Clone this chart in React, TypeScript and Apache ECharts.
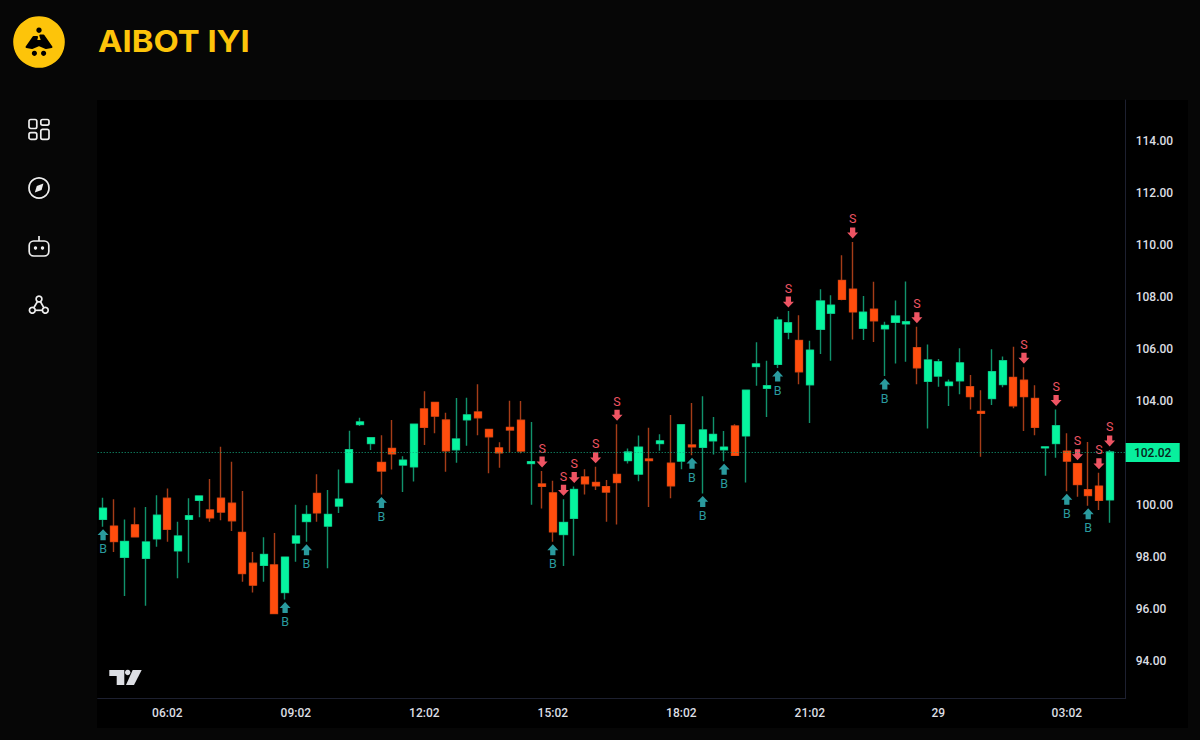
import React, { useEffect, useRef } from "react";
import * as echarts from "echarts";

const opens = [99.45,99.19,97.99,99.24,97.95,98.70,100.26,98.24,99.45,100.18,99.81,100.26,100.07,98.95,97.76,97.68,97.70,96.64,98.54,99.37,100.45,99.19,99.96,100.87,103.10,102.37,101.64,102.18,101.54,101.47,103.70,103.95,103.27,102.13,103.28,103.58,102.91,102.20,102.99,103.26,101.60,100.81,100.47,98.87,99.49,101.08,100.87,100.71,101.18,101.71,101.19,101.77,102.37,101.61,101.69,102.31,102.22,102.47,102.13,103.04,102.66,105.33,104.49,105.41,106.65,106.33,104.63,106.76,107.38,108.64,108.30,106.80,107.53,106.78,107.03,106.97,106.05,104.76,104.96,104.60,104.78,104.55,103.60,104.10,104.64,104.91,104.80,104.10,102.20,102.37,102.07,101.59,100.59,100.73,100.20];
const closes = [99.88,98.60,98.60,98.78,98.58,99.61,99.07,98.81,99.59,100.35,99.51,99.73,99.40,97.37,96.92,98.10,95.83,98.00,98.81,99.64,99.70,99.64,100.23,102.13,103.20,102.59,101.31,101.97,101.73,103.11,102.99,103.42,102.09,102.54,103.47,103.36,102.63,102.01,102.89,102.08,101.67,100.72,98.97,99.33,100.60,100.82,100.74,100.50,100.87,102.04,102.23,101.71,102.47,100.74,103.09,102.24,102.89,102.72,102.23,101.91,104.42,105.43,104.59,107.12,107.01,105.13,105.96,107.85,107.69,107.91,107.43,107.42,107.09,106.91,107.27,107.05,105.28,105.58,105.51,104.73,105.47,104.17,103.53,105.13,105.55,103.82,104.17,102.99,102.24,103.05,101.69,100.79,100.37,100.18,102.04];
const lows = [99.17,98.20,96.50,98.78,96.13,98.40,98.59,97.19,97.78,99.53,99.36,99.42,99.00,97.05,96.64,97.05,95.83,96.37,97.82,98.59,99.36,97.57,99.70,100.87,103.04,102.12,100.41,101.37,100.50,100.91,102.31,102.76,101.28,101.63,102.28,102.69,101.22,101.44,102.03,101.99,100.01,99.87,98.59,97.66,98.05,100.41,100.58,99.36,99.25,101.60,100.92,99.93,102.09,100.26,101.38,101.92,100.45,101.95,101.69,101.91,100.87,104.59,103.39,105.27,106.38,104.65,103.16,105.81,105.55,107.88,106.37,106.35,106.27,104.96,105.45,105.51,104.65,102.95,104.55,103.81,104.26,103.68,101.86,103.85,104.53,103.72,102.85,102.69,101.13,101.82,100.53,100.32,99.97,99.81,99.32];
const highs = [100.28,100.22,99.45,99.91,99.93,100.38,100.64,99.36,100.26,100.35,101.00,102.24,101.67,100.54,98.20,98.76,98.93,98.00,100.01,99.99,101.19,100.58,101.37,102.86,103.36,102.62,102.69,103.27,101.88,103.11,104.38,103.95,103.55,104.12,104.13,104.65,102.91,102.42,104.01,104.00,103.20,101.31,100.94,100.22,100.71,101.38,101.47,100.96,103.11,102.18,102.68,102.97,102.72,103.46,103.09,103.93,104.19,103.39,102.85,103.11,104.42,106.26,105.55,107.24,107.46,107.30,106.32,108.30,108.07,109.61,110.12,108.04,108.59,107.05,107.87,108.60,106.86,106.18,105.62,104.83,106.03,105.00,104.42,105.99,105.71,106.09,105.30,104.61,102.24,103.68,102.76,101.59,102.43,101.24,102.12];

const buyIndexes = [0,17,19,26,42,55,56,58,63,73,90,92];
const sellIndexes = [41,43,44,46,48,64,70,76,86,89,91,93,94];
const yTickLabels = [94,96,98,100,104,106,108,110,112,114];
const lastPrice = 102.02;
const categories = Array.from({ length: 96 }, (_, i) => {
  const m = (4 * 60 + 32 + i * 15) % (24 * 60);
  return String(Math.floor(m / 60)).padStart(2, "0") + ":" + String(m % 60).padStart(2, "0");
});

const UP = "#06f59f";
const DOWN = "#ff4d0d";
const UP_WICK = "#11926c";
const DOWN_WICK = "#a53c18";
const YELLOW = "#fdc40a";
const BUY = "#2a9a9e";
const SELL = "#ee5463";
const TEXT = "#dcdee3";
const ICON = "#eeeeee";
const AXIS = "#1d2030";
const PAGE = "#060606";
const FONT = "Roboto, sans-serif";

const arrowUp = "path://M5 0 L10 5.4 L7.4 5.4 L7.4 10 L2.6 10 L2.6 5.4 L0 5.4 Z";
const arrowDown = "path://M2.6 0 L7.4 0 L7.4 4.6 L10 4.6 L5 10 L0 4.6 L2.6 4.6 Z";

function rr(x: number, y: number, w: number, h: number, r: number) {
  return {
    type: "rect", shape: { x, y, width: w, height: h, r },
    style: { fill: "none", stroke: ICON, lineWidth: 1.7 },
  };
}
function ring(cx: number, cy: number, r: number, w = 1.7) {
  return { type: "circle", shape: { cx, cy, r }, style: { fill: PAGE, stroke: ICON, lineWidth: w } };
}
function seg(x1: number, y1: number, x2: number, y2: number) {
  return { type: "line", shape: { x1, y1, x2, y2 }, style: { stroke: ICON, lineWidth: 1.7 } };
}
function dot(cx: number, cy: number, r: number, fill: string) {
  return { type: "circle", shape: { cx, cy, r }, style: { fill } };
}

const graphics: any[] = [
  { type: "rect", z: -10, shape: { x: 97, y: 100, width: 1091, height: 628 }, style: { fill: "#000" } },
  // logo
  dot(39, 42, 25.8, YELLOW),
  dot(39, 30.2, 2.7, "#000"),
  { type: "polygon",
    shape: { points: [[33.5,37],[37,37],[36,41],[42,41],[40.3,35.5],[43.5,35.5],[51.5,47],[46,48],[39,45],[32,48],[26.5,47]] },
    style: { fill: "#000", stroke: "#000", lineWidth: 2, lineJoin: "round" } },
  dot(34.4, 53.3, 2.6, "#000"),
  dot(43.6, 53.3, 2.6, "#000"),
  { type: "text", x: 98, y: 42, scaleX: 1.095, style: { text: "AIBOT IYI", fill: YELLOW, font: "700 30px Inter, sans-serif", textVerticalAlign: "middle", textAlign: "left" } },
  // dashboard icon
  rr(29, 119.5, 7.8, 9, 1.8), rr(40.8, 119.5, 8.2, 5.6, 1.8),
  rr(29, 132.7, 7.8, 6.6, 1.8), rr(40.8, 129.4, 8.2, 9.9, 1.8),
  // compass icon
  ring(39, 188, 10),
  { type: "polygon", shape: { points: [[43.4,183.6],[41.6,190],[34.8,192.4],[36.8,186]] }, style: { fill: ICON } },
  // robot icon
  seg(39, 236, 39, 241),
  rr(29.2, 241, 19.6, 15, 4.5),
  dot(35.5, 248, 1.7, ICON), dot(42.5, 248, 1.7, ICON),
  // network icon
  seg(39, 299, 32.3, 310.3), seg(39, 299, 45.3, 310.3), seg(32.3, 310.3, 45.3, 310.3),
  ring(39, 299, 2.9), ring(32.3, 310.3, 2.9), ring(45.3, 310.3, 2.9),
  // chart-library mark
  { type: "polygon", shape: { points: [[109.3,670],[124.3,670],[124.3,685],[116.7,685],[116.7,676],[109.3,676]] }, style: { fill: TEXT } },
  dot(127.7, 672.4, 2.7, TEXT),
  { type: "polygon", shape: { points: [[132.7,670],[141.7,670],[134,685],[126,685]] }, style: { fill: TEXT } },
];

export default function App() {
  const ref = useRef<HTMLDivElement>(null);
  useEffect(() => {
    document.body.style.margin = "0";
    document.body.style.background = PAGE;
    const chart = echarts.init(ref.current!, undefined, { renderer: "svg" });
    chart.setOption({
      animation: false,
      backgroundColor: PAGE,
      textStyle: { fontFamily: FONT },
      graphic: graphics,
      grid: { left: 97.7, top: 100, width: 1028, height: 598, containLabel: false },
      xAxis: {
        type: "category",
        data: categories,
        boundaryGap: true,
        axisLine: { lineStyle: { color: AXIS, width: 1 } },
        axisTick: { show: false },
        splitLine: { show: false },
        axisLabel: {
          color: TEXT, fontSize: 12, fontFamily: FONT, fontWeight: 500, margin: 9,
          interval: (i: number) => i >= 6 && (i - 6) % 12 === 0,
          formatter: (v: string) => (v === "00:02" ? "29" : v),
        },
      },
      yAxis: {
        type: "value",
        position: "right",
        min: 92.58,
        max: 115.58,
        axisLine: { show: true, lineStyle: { color: AXIS, width: 1 } },
        axisTick: { show: false },
        splitLine: { show: false },
        axisLabel: {
          color: TEXT, fontSize: 12, fontFamily: FONT, fontWeight: 500, margin: 10,
          customValues: yTickLabels,
          formatter: (v: number) => v.toFixed(2),
        },
      },
      series: [
        {
          name: "Wicks",
          type: "candlestick",
          barWidth: 7.6,
          silent: true,
          itemStyle: { color: UP_WICK, color0: DOWN_WICK, borderColor: UP_WICK, borderColor0: DOWN_WICK, borderWidth: 1.4 },
          data: opens.map((o, i) => [o, closes[i], lows[i], highs[i]]),
        },
        {
          name: "Bodies",
          type: "candlestick",
          barWidth: 7.6,
          silent: true,
          itemStyle: { color: UP, color0: DOWN, borderColor: UP, borderColor0: DOWN, borderWidth: 0.5 },
          data: opens.map((o, i) => [o, closes[i], Math.min(o, closes[i]), Math.max(o, closes[i])]),
          markLine: {
            silent: true,
            symbol: "none",
            lineStyle: { color: "#14a57c", type: [1, 2], width: 1 },
            label: {
              show: true, position: "end", distance: 0, formatter: lastPrice.toFixed(2), offset: [27, 0],
              backgroundColor: "#08ef9d", color: "#06241b", fontSize: 12, fontFamily: FONT, fontWeight: 500,
              width: 54, height: 19, lineHeight: 19, align: "center", verticalAlign: "middle",
            },
            data: [{ yAxis: lastPrice }],
          },
        },
        {
          name: "Buy",
          type: "scatter",
          symbol: arrowUp,
          symbolSize: 11,
          symbolOffset: [0, 8],
          silent: true,
          itemStyle: { color: BUY, opacity: 1 },
          label: { show: true, position: "bottom", distance: 2, formatter: "B", color: BUY, fontSize: 12.5, fontFamily: FONT },
          data: buyIndexes.map((i) => [i, lows[i]]),
        },
        {
          name: "Sell",
          type: "scatter",
          symbol: arrowDown,
          symbolSize: 11,
          symbolOffset: [0, -9],
          silent: true,
          itemStyle: { color: SELL, opacity: 1 },
          label: { show: true, position: "top", distance: 2, formatter: "S", color: SELL, fontSize: 12.5, fontFamily: FONT },
          data: sellIndexes.map((i) => [i, highs[i]]),
        },
      ],
    });
    return () => chart.dispose();
  }, []);
  return <div ref={ref} style={{ position: "fixed", left: 0, top: 0, width: 1200, height: 740 }} />;
}
